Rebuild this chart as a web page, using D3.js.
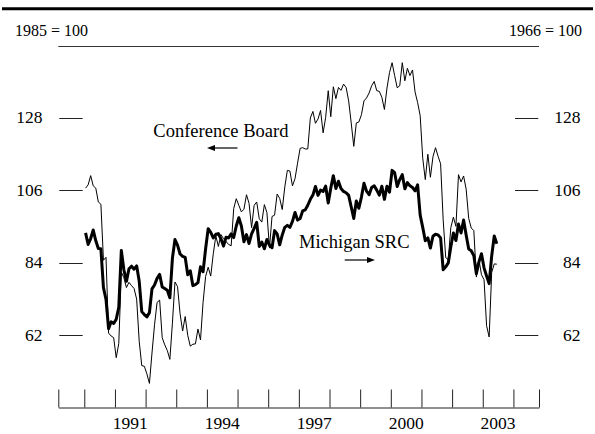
<!DOCTYPE html>
<html><head><meta charset="utf-8">
<script src="https://cdn.jsdelivr.net/npm/d3@7"></script>
<style>
body{margin:0;background:#fff}
svg{display:block}
text{font-family:"Liberation Serif","Times New Roman",serif;fill:#000}
</style>
</head><body>
<svg id="chart" width="595" height="434"></svg>
<script>
// Monthly data, Jan 1990 – Jun 2003
const startYear = 1990;
const conferenceBoard = [
  106.6,107.6,110.4,107.3,106.6,102.4,101.7,84.7,85.6,62.6,61.7,61.2,
  55.1,59.4,81.1,79.4,76.4,78.0,77.0,76.1,72.9,60.1,52.7,52.5,
  50.2,47.3,56.5,65.1,71.9,72.6,61.2,59.0,57.3,54.6,65.6,78.1,
  76.7,68.5,63.2,67.6,61.9,58.6,59.2,59.3,63.8,60.5,71.9,79.8,
  82.6,79.9,86.7,92.1,88.9,92.5,91.3,90.4,89.5,89.1,100.4,103.4,
  101.4,99.4,100.2,104.6,102.0,94.6,101.4,102.4,97.3,96.3,101.6,99.2,
  88.4,98.0,98.4,104.8,103.5,100.1,107.0,112.0,111.8,107.3,109.5,114.2,
  118.7,118.9,118.5,118.5,127.9,129.9,126.3,127.6,130.2,123.4,128.1,136.2,
  128.3,137.4,133.8,137.2,136.3,138.2,137.2,133.1,126.4,119.3,126.4,126.7,
  128.9,133.1,134.0,135.5,137.7,139.0,136.2,136.0,134.2,130.5,137.0,141.7,
  144.7,140.8,137.1,137.7,144.7,139.2,143.0,140.8,142.5,135.8,132.6,128.6,
  115.7,109.2,116.9,109.9,116.1,118.9,116.3,114.0,97.0,85.5,84.9,94.6,
  97.8,95.0,110.7,108.5,110.3,106.3,97.4,94.5,93.7,79.6,84.9,80.3,
  78.8,64.8,61.4,81.0,83.6,83.5
];
const michigan = [
  93.0,89.5,91.3,93.9,90.6,88.3,88.2,76.4,72.8,63.9,66.0,65.5,
  66.8,70.4,87.7,81.8,78.3,82.1,82.9,82.0,83.0,78.3,69.1,68.2,
  67.5,68.8,76.0,77.2,79.2,80.4,76.6,76.1,75.6,73.3,85.3,91.0,
  89.3,86.6,85.9,85.6,80.3,81.5,77.0,77.3,77.9,82.7,81.2,88.2,
  94.3,93.2,91.5,92.6,92.8,91.2,89.0,91.7,91.5,92.7,91.6,95.1,
  97.6,95.1,90.3,92.5,89.8,92.7,94.4,96.2,88.9,90.2,88.2,91.0,
  89.3,88.5,93.7,92.7,89.4,92.4,94.7,95.3,94.7,96.5,99.2,96.9,
  97.4,99.7,100.0,101.4,103.2,104.5,107.1,104.4,106.0,105.6,107.2,102.1,
  106.6,110.4,106.5,108.7,106.5,105.6,105.2,104.4,100.9,97.4,102.7,100.5,
  103.9,108.1,105.7,104.6,106.8,107.3,106.0,104.5,107.2,103.2,107.2,105.4,
  112.0,111.3,107.1,109.2,110.7,106.4,108.3,107.3,106.8,105.8,107.6,98.4,
  94.7,90.6,91.5,88.4,92.0,92.6,92.4,91.5,81.8,82.7,83.9,88.8,
  93.0,90.7,95.7,93.0,96.9,92.4,88.1,87.6,86.1,80.6,84.2,86.7,
  82.4,79.9,77.6,86.0,92.1,89.7
];
const yTickValues = [62, 84, 106, 128];
const yearBoundaries = d3.range(1990, 2005);
const yearLabels = [1991, 1994, 1997, 2000, 2003];
const leftUnit = "1985 = 100";
const rightUnit = "1966 = 100";
const seriesLabels = ["Conference Board", "Michigan SRC"];

const svg = d3.select("#chart");
const xDomain = [1989.152, 2004.835];
const x = d3.scaleLinear().domain(xDomain).range([58.3, 539]);
const y = d3.scaleLinear().domain([62, 128]).range([335, 117.7]);
const tOf = i => startYear + (i + 0.5) / 12;

// top rule
svg.append("line").attr("x1", 2).attr("x2", 593).attr("y1", 8.7).attr("y2", 8.7)
  .attr("stroke", "#000").attr("stroke-width", 3);
// unit labels
svg.append("text").attr("x", 15).attr("y", 36).attr("font-size", 16).text(leftUnit);
svg.append("text").attr("x", 582).attr("y", 36).attr("font-size", 16)
  .attr("text-anchor", "end").text(rightUnit);
// thin rule under header
svg.append("line").attr("x1", x.range()[0]).attr("x2", x.range()[1]).attr("y1", 46.5).attr("y2", 46.5)
  .attr("stroke", "#333").attr("stroke-width", 1);

// y ticks both sides
const yg = svg.append("g");
yTickValues.forEach(v => {
  const yy = Math.round(y(v)) + 0.5;
  yg.append("line").attr("x1", 59.3).attr("x2", 82.7).attr("y1", yy).attr("y2", yy)
    .attr("stroke", "#222").attr("stroke-width", 1);
  yg.append("line").attr("x1", 515).attr("x2", 538.3).attr("y1", yy).attr("y2", yy)
    .attr("stroke", "#222").attr("stroke-width", 1);
  yg.append("text").attr("x", 42.5).attr("y", y(v)).attr("dy", "0.33em")
    .attr("text-anchor", "end").attr("font-size", 17.5).text(v);
  yg.append("text").attr("x", 580.5).attr("y", y(v)).attr("dy", "0.33em")
    .attr("text-anchor", "end").attr("font-size", 17.5).text(v);
});

// x axis (ticks point upward)
const xAxis = d3.axisTop(x)
  .tickValues([xDomain[0], ...yearBoundaries, xDomain[1]])
  .tickSize(18).tickSizeOuter(0).tickFormat("");
const xg = svg.append("g").attr("transform", "translate(0,407.5)").call(xAxis);
xg.select(".domain").attr("stroke", "#222");
xg.selectAll(".tick line").attr("stroke", "#222");
yearLabels.forEach(yr => {
  svg.append("text").attr("x", x(yr + 0.5)).attr("y", 428.5)
    .attr("text-anchor", "middle").attr("font-size", 17.5).text(yr);
});

// lines
const line = d3.line().x((d, i) => x(tOf(i))).y(d => y(d));
svg.append("path").datum(conferenceBoard).attr("d", line)
  .attr("fill", "none").attr("stroke", "#000").attr("stroke-width", 1)
  .attr("stroke-linejoin", "round");
svg.append("path").datum(michigan).attr("d", line)
  .attr("fill", "none").attr("stroke", "#000").attr("stroke-width", 3)
  .attr("stroke-linejoin", "round");

// series labels and arrows
svg.append("text").attr("x", 153.3).attr("y", 137.3).attr("font-size", 18.5).text(seriesLabels[0]);
svg.append("line").attr("x1", 212).attr("x2", 237.5).attr("y1", 148).attr("y2", 148)
  .attr("stroke", "#000").attr("stroke-width", 1.2);
svg.append("path").attr("d", "M207,148 L215,145 L215,151 Z").attr("fill", "#000");

svg.append("text").attr("x", 299).attr("y", 248.3).attr("font-size", 18.5).text(seriesLabels[1]);
svg.append("line").attr("x1", 344.7).attr("x2", 370).attr("y1", 260).attr("y2", 260)
  .attr("stroke", "#000").attr("stroke-width", 1.2);
svg.append("path").attr("d", "M375,260 L367,257 L367,263 Z").attr("fill", "#000");
</script>
</body></html>
